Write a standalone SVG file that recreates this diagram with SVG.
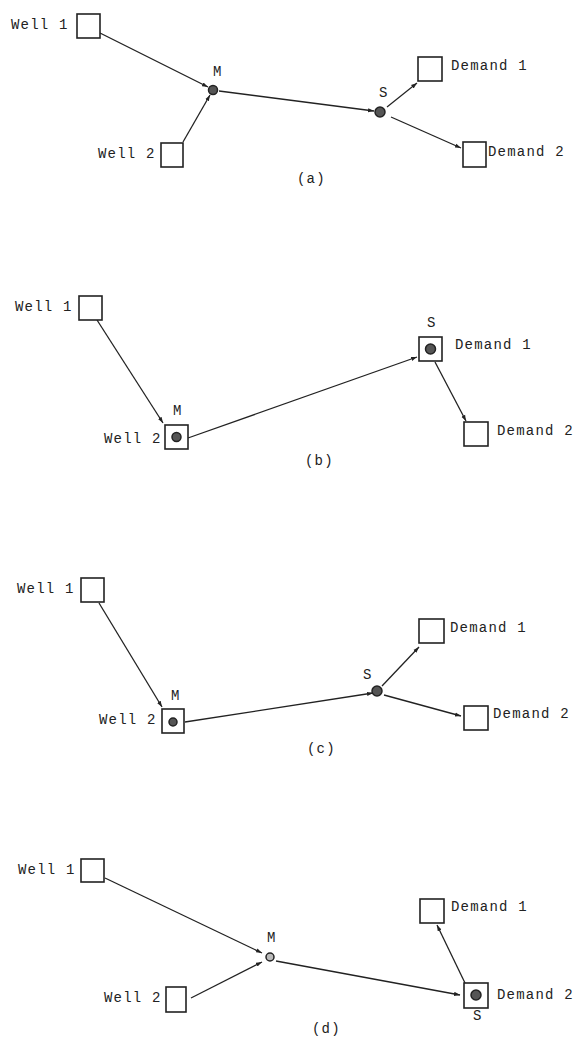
<svg xmlns="http://www.w3.org/2000/svg" width="575" height="1044" viewBox="0 0 575 1044">
<style>
text{font-family:"Liberation Mono","DejaVu Sans Mono",monospace;font-size:14px;fill:#222;letter-spacing:1.2px}
.box{fill:#fff;stroke:#222;stroke-width:1.6}
.jn{fill:#555;stroke:#222;stroke-width:1.5}
.c{stroke:#222;stroke-width:1.3;fill:none;marker-end:url(#ah)}
</style>
<defs>
<marker id="ah" viewBox="0 0 10 10" refX="10" refY="5" markerWidth="6" markerHeight="6" orient="auto" markerUnits="userSpaceOnUse">
<path d="M0,1.5 L10,5 L0,8.5 Z" fill="#222"/>
</marker>
</defs>
<rect width="575" height="1044" fill="#fff"/>

<!-- Panel a -->
<g id="connectors-a">
<line class="c" x1="100" y1="33" x2="208" y2="87"/>
<line class="c" x1="183" y1="142" x2="210" y2="95"/>
<line class="c" x1="219" y1="91" x2="374" y2="111"/>
<line class="c" x1="387" y1="107" x2="417" y2="83"/>
<line class="c" x1="391" y1="117" x2="461" y2="148"/>
</g>
<g id="a-well1"><rect class="box" x="77" y="14" width="23" height="24"/><text x="11" y="29">Well 1</text></g>
<g id="a-well2"><rect class="box" x="161" y="143" width="22" height="24"/><text x="98" y="158">Well 2</text></g>
<g id="a-M"><circle class="jn" cx="213" cy="90" r="4.5"/><text x="213" y="76">M</text></g>
<g id="a-S"><circle class="jn" cx="380" cy="112" r="5"/><text x="379" y="97">S</text></g>
<g id="a-d1"><rect class="box" x="418" y="57" width="24" height="24"/><text x="451" y="70">Demand 1</text></g>
<g id="a-d2"><rect class="box" x="463" y="142" width="23" height="25"/><text x="488" y="156">Demand 2</text></g>
<text id="a-cap" x="297" y="183">(a)</text>

<!-- Panel b -->
<g id="connectors-b">
<line class="c" x1="97" y1="320" x2="163" y2="423"/>
<line class="c" x1="188" y1="438" x2="417" y2="357"/>
<line class="c" x1="435" y1="362" x2="466" y2="421"/>
</g>
<g id="b-well1"><rect class="box" x="79" y="296" width="23" height="24"/><text x="15" y="311">Well 1</text></g>
<g id="b-well2"><rect class="box" x="165" y="425" width="23" height="24"/><circle class="jn" cx="176.5" cy="437" r="4.5"/><text x="173" y="415">M</text><text x="104" y="443">Well 2</text></g>
<g id="b-d1"><rect class="box" x="419" y="337" width="23" height="24"/><circle class="jn" cx="430.5" cy="349" r="5"/><text x="427" y="327">S</text><text x="455" y="349">Demand 1</text></g>
<g id="b-d2"><rect class="box" x="464" y="422" width="24" height="24"/><text x="497" y="435">Demand 2</text></g>
<text id="b-cap" x="305" y="465">(b)</text>

<!-- Panel c -->
<g id="connectors-c">
<line class="c" x1="99" y1="603" x2="162" y2="707"/>
<line class="c" x1="185" y1="722" x2="373" y2="693"/>
<line class="c" x1="382" y1="686" x2="419" y2="647"/>
<line class="c" x1="384" y1="695" x2="461" y2="716"/>
</g>
<g id="c-well1"><rect class="box" x="81" y="578" width="23" height="24"/><text x="17" y="593">Well 1</text></g>
<g id="c-well2"><rect class="box" x="162" y="709" width="22" height="24"/><circle class="jn" cx="173" cy="722" r="4"/><text x="171" y="700">M</text><text x="99" y="724">Well 2</text></g>
<g id="c-S"><circle class="jn" cx="377" cy="691" r="5"/><text x="363" y="679">S</text></g>
<g id="c-d1"><rect class="box" x="419" y="619" width="25" height="24"/><text x="450" y="632">Demand 1</text></g>
<g id="c-d2"><rect class="box" x="464" y="706" width="24" height="24"/><text x="493" y="718">Demand 2</text></g>
<text id="c-cap" x="307" y="753">(c)</text>

<!-- Panel d -->
<g id="connectors-d">
<line class="c" x1="105" y1="878" x2="262" y2="953"/>
<line class="c" x1="191" y1="998" x2="262" y2="962"/>
<line class="c" x1="276" y1="961" x2="460" y2="995"/>
<line class="c" x1="465" y1="983" x2="437" y2="925"/>
</g>
<g id="d-well1"><rect class="box" x="81" y="859" width="23" height="23"/><text x="18" y="874">Well 1</text></g>
<g id="d-well2"><rect class="box" x="166" y="987" width="20" height="25"/><text x="104" y="1002">Well 2</text></g>
<g id="d-M"><circle class="jn" cx="270" cy="957" r="4" style="fill:#bbb"/><text x="267" y="942">M</text></g>
<g id="d-d1"><rect class="box" x="420" y="899" width="24" height="24"/><text x="451" y="911">Demand 1</text></g>
<g id="d-d2"><rect class="box" x="464" y="983" width="24" height="25"/><circle class="jn" cx="476" cy="995" r="5"/><text x="473" y="1020">S</text><text x="497" y="999">Demand 2</text></g>
<text id="d-cap" x="312" y="1033">(d)</text>
</svg>
